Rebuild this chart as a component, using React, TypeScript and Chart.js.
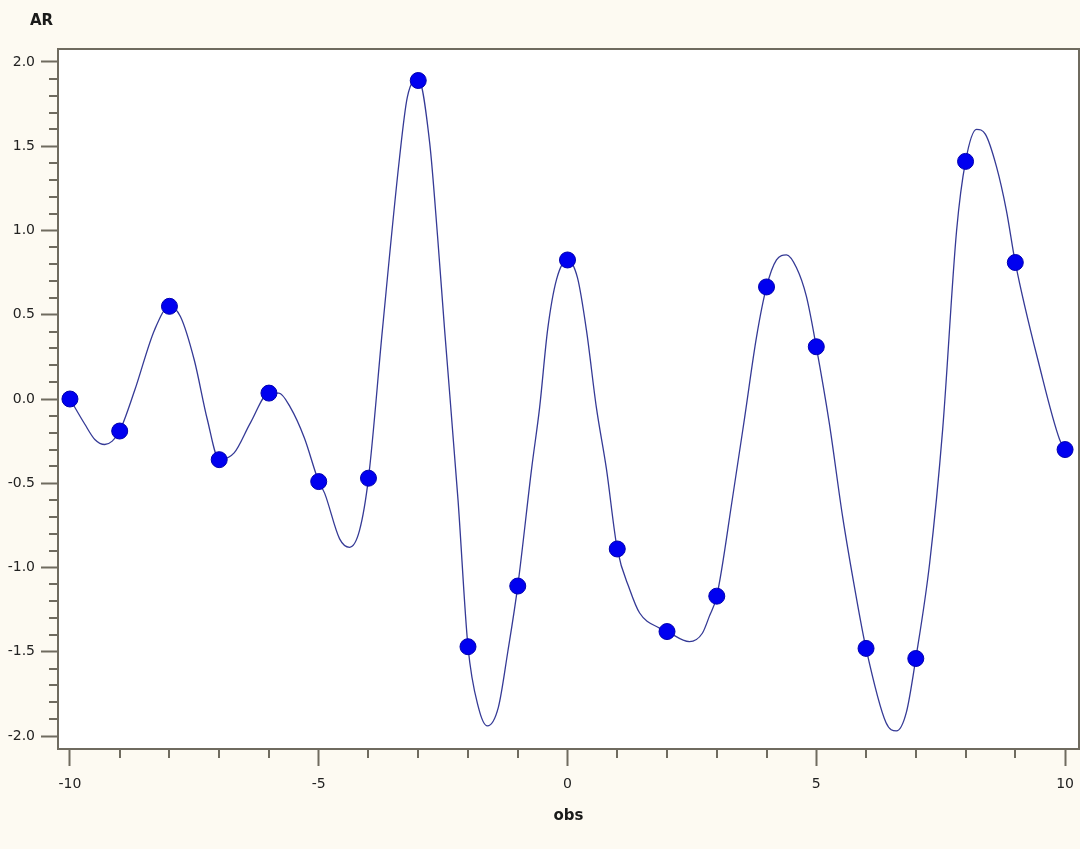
import React, { useEffect, useRef } from "react";
import { Chart, registerables } from "chart.js";

Chart.register(...registerables);

// Observed AR values at integer obs positions
const obsX = [-10, -9, -8, -7, -6, -5, -4, -3, -2, -1, 0, 1, 2, 3, 4, 5, 6, 7, 8, 9, 10];
const arValues = [0.0, -0.19, 0.55, -0.36, 0.035, -0.49, -0.47, 1.89, -1.47, -1.11, 0.825, -0.89, -1.38, -1.17, 0.665, 0.31, -1.48, -1.54, 1.41, 0.81, -0.3];

// Smooth fitted curve vertices
const curveX = [
  -10, -9.7, -9.5, -9.3, -9.15, -9, -8.7, -8.3, -8, -7.78, -7.5, -7.24, -7, -6.7, -6.37, -6, -5.8, -5.57, -5.29, -5,
  -4.88, -4.58, -4.38, -4.18, -4, -3.72, -3.38, -3.22, -3, -2.77, -2.61, -2.47, -2.2, -2, -1.79, -1.61, -1.39, -1.2, -1,
  -0.72, -0.56, -0.4, -0.22, 0, 0.2, 0.38, 0.58, 0.78, 1, 1.25, 1.45, 1.85, 2, 2.45, 2.71, 2.85, 3, 3.32, 3.56, 3.8, 4,
  4.2, 4.4, 4.6, 4.8, 5, 5.26, 5.53, 5.8, 6, 6.4, 6.61, 6.81, 7, 7.28, 7.54, 7.82, 8, 8.22, 8.4, 8.62, 8.82, 9, 9.49, 9.89, 10,
];
const curveY = [
  0.0, -0.15, -0.24, -0.27, -0.25, -0.19, 0.05, 0.41, 0.55, 0.49, 0.23, -0.12, -0.36, -0.32, -0.14, 0.035, 0.035, -0.05, -0.23, -0.49,
  -0.56, -0.83, -0.88, -0.78, -0.47, 0.41, 1.42, 1.79, 1.9, 1.52, 0.96, 0.41, -0.6, -1.47, -1.83, -1.94, -1.83, -1.5, -1.11,
  -0.41, -0.05, 0.41, 0.71, 0.825, 0.72, 0.41, -0.05, -0.41, -0.89, -1.13, -1.27, -1.36, -1.38, -1.44, -1.39, -1.29, -1.17, -0.58, -0.11, 0.37, 0.665,
  0.825, 0.855, 0.78, 0.61, 0.31, -0.14, -0.7, -1.17, -1.48, -1.92, -1.97, -1.86, -1.54, -0.97, -0.18, 1.0, 1.41, 1.6, 1.57, 1.38, 1.12, 0.81, 0.19, -0.24, -0.3,
];

const yTickValues = [-2, -1.5, -1, -0.5, 0, 0.5, 1, 1.5, 2];
const xTickValues = [-10, -5, 0, 5, 10];
const yAxisTitle = "AR";
const xAxisTitle = "obs";

const BG = "#fdfaf2";
const AXIS = "#6f6b5f";
const FONT = "'DejaVu Sans', Verdana, sans-serif";

const decorPlugin = {
  id: "decor",
  beforeDraw(chart: any) {
    const { ctx, chartArea: a, width, height } = chart;
    ctx.save();
    ctx.fillStyle = BG;
    ctx.fillRect(0, 0, width, height);
    ctx.fillStyle = "#ffffff";
    ctx.fillRect(a.left, a.top, a.right - a.left, a.bottom - a.top);
    ctx.restore();
  },
  afterDraw(chart: any) {
    const { ctx, chartArea: a } = chart;
    const xs = chart.scales.x;
    const ys = chart.scales.y;
    ctx.save();
    ctx.strokeStyle = AXIS;
    ctx.lineWidth = 2;
    ctx.strokeRect(a.left, a.top, a.right - a.left, a.bottom - a.top);
    // minor ticks
    ctx.beginPath();
    for (let i = -20; i <= 20; i++) {
      if (i % 5 === 0) continue;
      const py = Math.round(ys.getPixelForValue(i / 10));
      ctx.moveTo(a.left - 9, py);
      ctx.lineTo(a.left, py);
    }
    for (let i = -10; i <= 10; i++) {
      if (i % 5 === 0) continue;
      const px = Math.round(xs.getPixelForValue(i));
      ctx.moveTo(px, a.bottom);
      ctx.lineTo(px, a.bottom + 9);
    }
    ctx.stroke();
    // x tick labels
    ctx.fillStyle = "#222";
    ctx.font = `14px ${FONT}`;
    ctx.textAlign = "center";
    ctx.textBaseline = "middle";
    xTickValues.forEach((v) => {
      ctx.fillText(String(v), xs.getPixelForValue(v), a.bottom + 35);
    });
    // titles
    ctx.fillStyle = "#1a1a1a";
    ctx.font = `bold 15px ${FONT}`;
    ctx.textAlign = "left";
    ctx.fillText(yAxisTitle, 30, 21);
    ctx.textAlign = "center";
    ctx.fillText(xAxisTitle, (a.left + a.right) / 2, 816);
    ctx.restore();
  },
};

export default function App() {
  const ref = useRef<HTMLCanvasElement | null>(null);

  useEffect(() => {
    document.body.style.margin = "0";
    document.body.style.background = BG;
    const canvas = ref.current;
    if (!canvas) return;
    const markers = obsX.map((x, i) => ({ x, y: arValues[i] }));
    const curve = curveX.map((x, i) => ({ x, y: curveY[i] }));
    const chart = new Chart(canvas, {
      type: "line",
      data: {
        datasets: [
          {
            data: markers,
            showLine: false,
            pointRadius: 8,
            pointHoverRadius: 8,
            pointBackgroundColor: "#0000f0",
            pointBorderColor: "#0000b0",
            pointBorderWidth: 1,
            order: 0,
          },
          {
            data: curve,
            borderColor: "#353a96",
            borderWidth: 1.3,
            pointRadius: 0,
            cubicInterpolationMode: "monotone",
            fill: false,
            order: 1,
          },
        ],
      },
      options: {
        responsive: false,
        animation: false,
        devicePixelRatio: 1,
        layout: { autoPadding: false, padding: { top: 49, left: 0, right: 1, bottom: 0 } },
        plugins: { legend: { display: false }, tooltip: { enabled: false }, title: { display: false } },
        events: [],
        scales: {
          x: {
            type: "linear",
            min: -10.24,
            max: 10.28,
            afterBuildTicks: (s: any) => {
              s.ticks = xTickValues.map((v) => ({ value: v }));
            },
            afterFit: (s: any) => {
              s.height = 100;
              s.paddingLeft = 0;
              s.paddingRight = 0;
            },
            grid: { drawOnChartArea: false, drawTicks: true, tickLength: 17, tickColor: AXIS, tickWidth: 2 },
            border: { display: false },
            ticks: { display: false },
          },
          y: {
            type: "linear",
            min: -2.077,
            max: 2.077,
            afterBuildTicks: (s: any) => {
              s.ticks = yTickValues.map((v) => ({ value: v }));
            },
            afterFit: (s: any) => {
              s.width = 58;
              s.paddingTop = 0;
              s.paddingBottom = 0;
            },
            grid: { drawOnChartArea: false, drawTicks: true, tickLength: 17, tickColor: AXIS, tickWidth: 2 },
            border: { display: false },
            ticks: {
              color: "#222",
              font: { family: FONT, size: 14 },
              padding: 6,
              callback: (v: any) => Number(v).toFixed(1),
            },
          },
        },
      },
      plugins: [decorPlugin],
    });
    return () => chart.destroy();
  }, []);

  return (
    <div style={{ width: 1080, height: 849, background: BG }}>
      <canvas ref={ref} width={1080} height={849} style={{ width: 1080, height: 849, display: "block" }} />
    </div>
  );
}
